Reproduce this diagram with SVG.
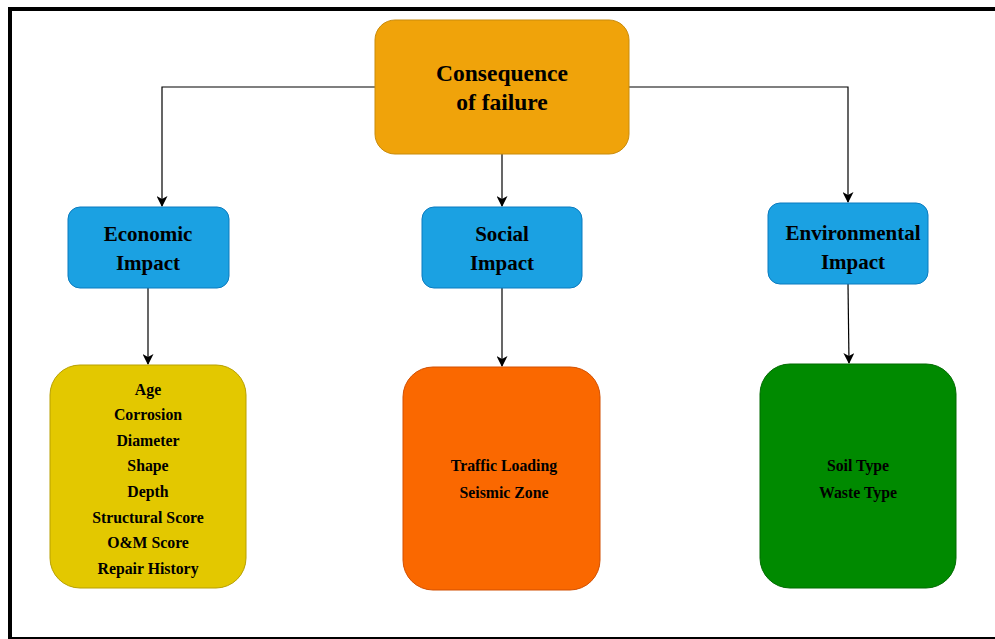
<svg xmlns="http://www.w3.org/2000/svg" width="995" height="639" viewBox="0 0 995 639">
<defs>
<marker id="arr" markerWidth="11" markerHeight="11" refX="10" refY="5.5" orient="auto" markerUnits="userSpaceOnUse">
<path d="M0,0 L11,5.5 L0,11 L3,5.5 Z" fill="#000"/>
</marker>
<style>
.t{font-family:"Liberation Serif","Times New Roman",serif;font-weight:bold;fill:#000;text-anchor:middle}
.big{font-size:23.5px}
.mid{font-size:21px}
.sm{font-size:15.8px}
.c{fill:none;stroke:#000;stroke-width:1.2}
</style>
</defs>
<rect x="0" y="0" width="995" height="639" fill="#fff"/>
<rect x="10" y="9" width="1000" height="630" fill="none" stroke="#000" stroke-width="4"/>
<g id="connectors">
<path class="c" d="M375,87 H162 V206" marker-end="url(#arr)"/>
<path class="c" d="M502,154 V206" marker-end="url(#arr)"/>
<path class="c" d="M629,87 H848 V202" marker-end="url(#arr)"/>
<path class="c" d="M148,288 V364" marker-end="url(#arr)"/>
<path class="c" d="M502,288 V366" marker-end="url(#arr)"/>
<path class="c" d="M848,284 L849,363" marker-end="url(#arr)"/>
</g>
<g id="consequence">
<rect x="375" y="20" width="254" height="134" rx="20" fill="#f0a30a" stroke="#c98b0b" stroke-width="1"/>
<text class="t big" x="502" y="81">Consequence</text>
<text class="t big" x="502" y="110">of failure</text>
</g>
<g id="economic">
<rect x="68" y="207" width="161" height="81" rx="12" fill="#1ba1e2" stroke="#0a7bbf" stroke-width="1"/>
<text class="t mid" x="148" y="241">Economic</text>
<text class="t mid" x="148" y="270">Impact</text>
</g>
<g id="social">
<rect x="422" y="207" width="160" height="81" rx="12" fill="#1ba1e2" stroke="#0a7bbf" stroke-width="1"/>
<text class="t mid" x="502" y="241">Social</text>
<text class="t mid" x="502" y="270">Impact</text>
</g>
<g id="environmental">
<rect x="768" y="203" width="160" height="81" rx="12" fill="#1ba1e2" stroke="#0a7bbf" stroke-width="1"/>
<text class="t mid" x="853" y="240">Environmental</text>
<text class="t mid" x="853" y="269">Impact</text>
</g>
<g id="economic-factors">
<rect x="50" y="365" width="196" height="223" rx="30" fill="#e3c800" stroke="#b8a000" stroke-width="1"/>
<text class="t sm" x="148" y="395">Age</text>
<text class="t sm" x="148" y="420">Corrosion</text>
<text class="t sm" x="148" y="446">Diameter</text>
<text class="t sm" x="148" y="471">Shape</text>
<text class="t sm" x="148" y="497">Depth</text>
<text class="t sm" x="148" y="523">Structural Score</text>
<text class="t sm" x="148" y="548">O&amp;M Score</text>
<text class="t sm" x="148" y="574">Repair History</text>
</g>
<g id="social-factors">
<rect x="403" y="367" width="197" height="223" rx="30" fill="#fa6800" stroke="#d24f00" stroke-width="1"/>
<text class="t sm" x="504" y="471">Traffic Loading</text>
<text class="t sm" x="504" y="498">Seismic Zone</text>
</g>
<g id="environmental-factors">
<rect x="760" y="364" width="196" height="224" rx="30" fill="#008a00" stroke="#006b00" stroke-width="1"/>
<text class="t sm" x="858" y="471">Soil Type</text>
<text class="t sm" x="858" y="498">Waste Type</text>
</g>
</svg>
